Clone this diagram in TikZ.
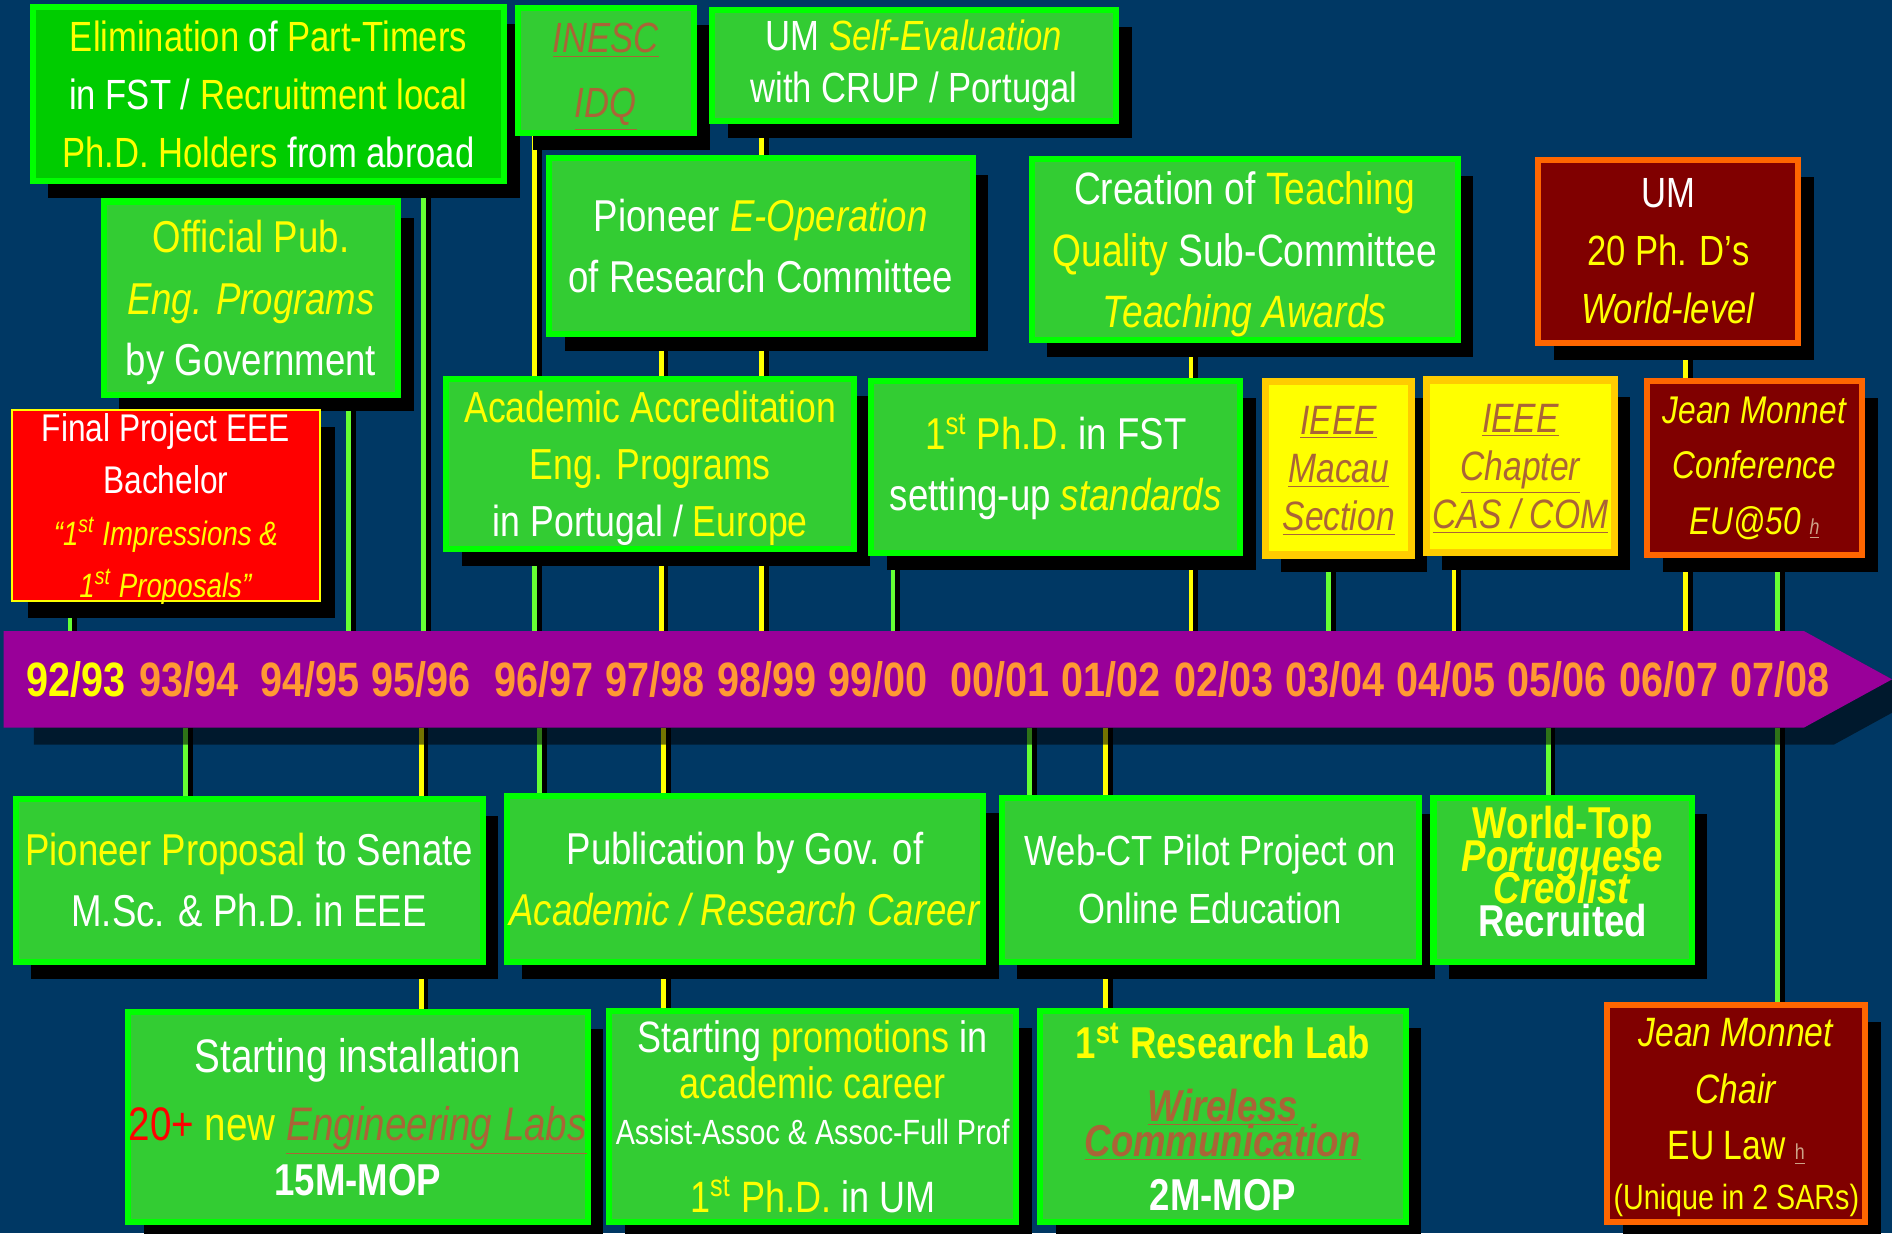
\documentclass[tikz,border=0pt]{standalone}
\usepackage{fontspec}
\setmainfont{Liberation Sans}[FakeStretch=0.82]
\usetikzlibrary{shadows}

\definecolor{navy}{RGB}{0,56,100}
\definecolor{brightgreen}{RGB}{0,255,0}
\definecolor{grass}{RGB}{51,204,51}
\definecolor{deepgreen}{RGB}{0,204,0}
\definecolor{ylw}{RGB}{255,255,0}
\definecolor{gold}{RGB}{255,204,0}
\definecolor{brn}{RGB}{170,100,55}
\definecolor{maroon}{RGB}{128,0,0}
\definecolor{flame}{RGB}{255,102,0}
\definecolor{purp}{RGB}{153,0,153}
\definecolor{peach}{RGB}{255,153,51}
\definecolor{tick}{RGB}{102,255,51}

\newcommand{\yl}[1]{\textcolor{ylw}{#1}}
\newcommand{\lnk}[1]{\textcolor{brn}{\underline{#1}}}
\newcommand{\hmark}{{\fontsize{9}{9}\selectfont\textcolor{brn!60!white}{\underline{h}}}}

\pgfdeclarelayer{back}
\pgfdeclarelayer{lines}
\pgfsetlayers{back,lines,main}

\begin{document}
\begin{tikzpicture}[x=0.5pt,y=-0.5pt,
        spot/.style n args={4}{at={({(#1+#3)/2},{(#2+#4)/2})},
            minimum width={(#3-#1)*0.5pt},minimum height={(#4-#2)*0.5pt}},
        evt/.style={draw=brightgreen,line width=2.5pt,fill=grass,text=white,align=center,inner sep=0pt,
            drop shadow={shadow xshift=6.5pt,shadow yshift=-7pt,fill=black,opacity=1},
            font=\fontsize{17.5}{24}\selectfont},
        eu/.style={evt,draw=flame,fill=maroon,text=ylw},
        ieee/.style={evt,draw=gold,fill=ylw,text=brn,line width=3pt,text depth=-2pt,
            font=\itshape\fontsize{17}{20}\selectfont},
        alert/.style={evt,draw=ylw,line width=1pt,fill=red},
        year/.style={font=\bfseries\fontsize{20}{20}\selectfont,text=peach},
        gconn/.style={draw=tick,line width=2pt,preaction={draw=black,line width=2pt,transform canvas={xshift=2pt}}},
        yconn/.style={gconn,draw=ylw}
    ]
    \useasboundingbox (0,0) rectangle (1568,1022);
    \begin{pgfonlayer}{back}
        \fill[navy] (0,0) rectangle (1568,1022);
    \end{pgfonlayer}

    % Time axis
    \fill[black,opacity=0.55] (28,537) -- (1520,537) -- (1593,577) -- (1520,617) -- (28,617) -- cycle;
    \fill[purp] (3,523) -- (1495,523) -- (1568,563) -- (1495,603) -- (3,603) -- cycle;
    \node[year,text=ylw] (yr92) at (63,563) {92/93};
    \foreach \x/\a/\b in {157/93/94,257/94/95,349/95/96,451/96/97,543/97/98,636/98/99,728/99/00,
            829/00/01,921/01/02,1014/02/03,1106/03/04,1198/04/05,1290/05/06,1383/06/07,1475/07/08}
        \node[year] (yr\a) at (\x,563) {\a/\b};

    % Tick points on the axis
    \foreach \n/\x in {fin/58,off/289,elim/351,acc/443,eop/548,self/631,fst/740,teach/987,
            macau/1101,chap/1205,phds/1397,jmc/1473}
        \coordinate (up-\n) at (\x,523);
    \foreach \n/\x in {prop/154,propb/349,pub/447,pubb/550,web/853,webb/916,world/1283,chair/1473}
        \coordinate (dn-\n) at (\x,603);

    % Events above the axis
    \node[evt,fill=deepgreen,spot={27}{6}{418}{150}] (elim)
        {\yl{Elimination} of \yl{Part-Timers}\\in FST / \yl{Recruitment local}\\\yl{Ph.D. Holders} from abroad};
    \node[evt,text=brn,text depth=-1pt,font=\itshape\fontsize{17.5}{27}\selectfont,spot={429}{7}{575}{110}] (inesc)
        {\underline{INESC}\\\underline{IDQ}};
    \node[evt,font=\fontsize{17.5}{21.5}\selectfont,spot={590}{8}{925}{100}] (self)
        {UM \yl{\textit{Self-Evaluation}}\\with CRUP / Portugal};
    \node[evt,text=ylw,text depth=-1pt,font=\fontsize{18.5}{25.5}\selectfont,spot={86}{167}{330}{327}] (off)
        {Official Pub.\\\textit{Eng. Programs}\\\textcolor{white}{by Government}};
    \node[evt,font=\fontsize{18.5}{25.5}\selectfont,spot={455}{131}{806}{277}] (eop)
        {Pioneer \yl{\textit{E-Operation}}\\of Research Committee};
    \node[evt,text depth=-1pt,font=\fontsize{18.8}{25.5}\selectfont,spot={855}{132}{1208}{282}] (teach)
        {Creation of \yl{Teaching}\\\yl{Quality} Sub-Committee\\\yl{\textit{Teaching Awards}}};
    \node[eu,spot={1275}{133}{1490}{284}] (phds)
        {\textcolor{white}{UM}\\20 Ph. D’s\\\textit{World-level}};
    \node[alert,text depth=-2pt,font=\fontsize{16}{21.5}\selectfont,spot={10}{340}{265}{498}] (fin)
        {Final Project EEE\\Bachelor\\{\fontsize{14}{21.5}\selectfont\yl{\textit{“1\textsuperscript{st} Impressions \&}}}\\
        {\fontsize{14}{21.5}\selectfont\yl{\textit{1\textsuperscript{st} Proposals”}}}};
    \node[evt,text=ylw,text depth=-1pt,font=\fontsize{18}{23.5}\selectfont,spot={370}{314}{708}{455}] (acc)
        {Academic Accreditation\\Eng. Programs\\\textcolor{white}{in Portugal /} Europe};
    \node[evt,font=\fontsize{18.5}{25.5}\selectfont,spot={722}{316}{1028}{458}] (fst)
        {\yl{1\textsuperscript{st} Ph.D.} in FST\\setting-up \yl{\textit{standards}}};
    \node[ieee,spot={1049}{316}{1170}{460}] (macau)
        {\underline{IEEE}\\\underline{Macau}\\\underline{Section}};
    \node[ieee,spot={1182}{315}{1338}{458}] (chap)
        {\underline{IEEE}\\\underline{Chapter}\\\underline{CAS / COM}};
    \node[eu,font=\itshape\fontsize{16}{23}\selectfont,spot={1365}{316}{1543}{460}] (jmc)
        {Jean Monnet\\Conference\\EU@50 \hmark};

    % Events below the axis
    \node[evt,font=\fontsize{18.5}{25.5}\selectfont,spot={13}{662}{400}{797}] (prop)
        {\yl{Pioneer Proposal} to Senate\\M.Sc. \& Ph.D. in EEE};
    \node[evt,font=\fontsize{18.5}{25.5}\selectfont,spot={420}{660}{815}{797}] (pub)
        {Publication by Gov. of\\\yl{\textit{Academic / Research Career}}};
    \node[evt,font=\fontsize{17.5}{24}\selectfont,spot={830}{661}{1176}{797}] (web)
        {Web-CT Pilot Project on\\Online Education};
    \node[evt,text=ylw,text depth=7pt,font={\bfseries\fontsize{18.5}{13.5}\selectfont\lineskiplimit-20pt},spot={1188}{661}{1402}{797}] (world)
        {World-Top\\\textit{Portuguese}\\\textit{Creolist}\\\textcolor{white}{Recruited}};
    \node[evt,font=\fontsize{19.5}{26}\selectfont,spot={106}{839}{487}{1013}] (inst)
        {Starting installation\\[2pt]\textcolor{red}{20+} \yl{new} \lnk{\textit{Engineering Labs}}\\[-3pt]
        {\bfseries\fontsize{18.5}{24}\selectfont 15M-MOP}};
    \node[evt,font=\fontsize{18.2}{19}\selectfont,spot={505}{838}{842}{1013}] (promo)
        {Starting \yl{promotions} in\\\yl{academic career}\\{\fontsize{14.5}{18}\selectfont Assist-Assoc \& Assoc-Full Prof}\\[9pt]
        \yl{1\textsuperscript{st} Ph.D.} in UM};
    \node[evt,text=ylw,font={\bfseries\fontsize{18.5}{14.5}\selectfont\lineskiplimit-20pt},spot={862}{838}{1165}{1013}] (lab)
        {1\textsuperscript{st} Research Lab\\[11.5pt]\lnk{\textit{Wireless}}\\\lnk{\textit{Communication}}\\[8pt]
        \textcolor{white}{2M-MOP}};
    \node[eu,text depth=-3pt,font=\fontsize{17}{23.5}\selectfont,spot={1332}{833}{1546}{1013}] (chair)
        {\textit{Jean Monnet}\\\textit{Chair}\\EU Law \hmark\\[-3pt]{\fontsize{14.5}{21}\selectfont (Unique in 2 SARs)}};

    % Connectors
    \begin{pgfonlayer}{lines}
        \draw[gconn] (fin.south -| up-fin) -- (up-fin);
        \draw[gconn] (off.south -| up-off) -- (up-off);
        \draw[gconn] (elim.south -| up-elim) -- (up-elim);
        \draw[yconn] (inesc.south -| up-acc) -- (acc.north -| up-acc);
        \draw[gconn] (acc.south -| up-acc) -- (up-acc);
        \draw[yconn] (eop.south -| up-eop) -- (up-eop);
        \draw[yconn] (self.south -| up-self) -- (up-self);
        \draw[gconn] (fst.south -| up-fst) -- (up-fst);
        \draw[yconn] (teach.south -| up-teach) -- (up-teach);
        \draw[gconn] (macau.south -| up-macau) -- (up-macau);
        \draw[yconn] (chap.south -| up-chap) -- (up-chap);
        \draw[yconn] (phds.south -| up-phds) -- (up-phds);
        \draw[gconn] (jmc.south -| up-jmc) -- (up-jmc);
        \draw[gconn] (dn-prop) -- (prop.north -| dn-prop);
        \draw[yconn] (dn-propb) -- (prop.north -| dn-propb);
        \draw[yconn] (prop.south -| dn-propb) -- (inst.north -| dn-propb);
        \draw[gconn] (dn-pub) -- (pub.north -| dn-pub);
        \draw[yconn] (dn-pubb) -- (pub.north -| dn-pubb);
        \draw[yconn] (pub.south -| dn-pubb) -- (promo.north -| dn-pubb);
        \draw[gconn] (dn-web) -- (web.north -| dn-web);
        \draw[yconn] (dn-webb) -- (web.north -| dn-webb);
        \draw[yconn] (web.south -| dn-webb) -- (lab.north -| dn-webb);
        \draw[gconn] (dn-world) -- (world.north -| dn-world);
        \draw[gconn] (dn-chair) -- (chair.north -| dn-chair);
    \end{pgfonlayer}
\end{tikzpicture}
\end{document}
